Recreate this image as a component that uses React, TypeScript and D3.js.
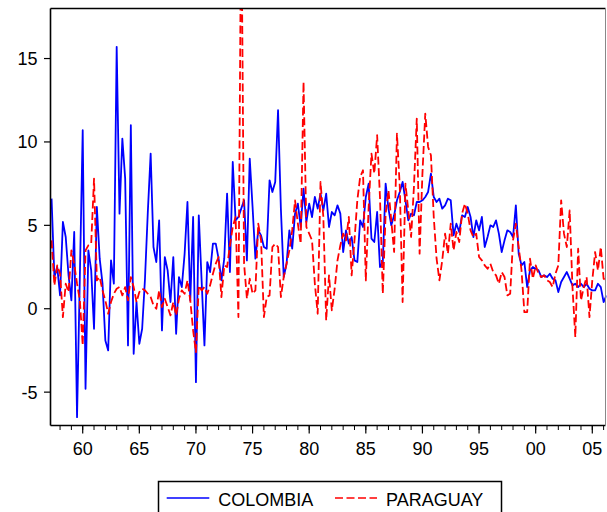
import React from "react";
import * as d3 from "d3";

const START_YEAR = 1957;
const START_QUARTER = 2;

const colombia = [
  6.6, 1.9, 2.5, 0.8, 5.2, 4.3, 2.0, 0.5, 4.6, -6.5,
  2.0, 10.7, -4.8, 3.5, 2.3, -1.2, 6.1, 3.0, 1.5, -1.9,
  -2.5, 2.9, 1.5, 15.7, 5.7, 10.2, 7.8, -2.2, 11.0, -2.7,
  0.4, -2.1, -1.2, 1.8, 5.8, 9.3, 3.7, 2.8, 5.3, -1.3,
  3.1, 2.3, 0.4, 3.1, -1.5, 1.9, 1.3, 3.3, 6.4, 0.5,
  5.5, -4.4, 5.6, 1.7, -2.2, 2.8, 2.2, 3.9, 3.9, 3.0,
  1.7, 3.0, 6.9, 2.2, 8.8, 5.3, 5.5, 6.0, 6.5, 2.9,
  9.0, 6.1, 3.0, 4.7, 4.4, 3.7, 3.6, 7.7, 7.0, 7.6,
  11.9, 6.0, 1.9, 2.7, 4.7, 3.6, 5.7, 6.3, 4.9, 7.2,
  5.2, 6.3, 5.5, 6.7, 6.0, 6.9, 5.9, 6.9, 4.9, 5.8,
  5.6, 6.2, 5.7, 3.4, 4.7, 3.9, 4.3, 2.9, 2.8, 5.3,
  4.9, 6.7, 7.5, 4.2, 4.0, 5.8, 2.5, 2.8, 7.5, 6.0,
  5.0, 5.6, 6.5, 7.0, 7.6, 6.5, 5.3, 5.7, 5.6, 6.4,
  6.4, 6.5, 6.7, 7.0, 8.1, 6.7, 6.4, 6.6, 6.0, 6.2,
  6.6, 6.5, 4.4, 5.1, 4.6, 5.6, 5.5, 6.1, 5.5, 4.3,
  5.3, 4.7, 5.5, 3.7, 4.3, 5.0, 4.9, 5.3, 4.5, 3.4,
  4.1, 4.7, 4.6, 4.3, 6.2, 3.3, 2.6, 2.8, 1.3, 2.3,
  2.5, 2.4, 2.3, 1.9, 2.0, 1.9, 2.1, 1.8, 1.7, 1.0,
  1.6, 1.9, 2.2, 1.8, 1.4, 1.5, 1.3, 1.5, 1.3, 1.5,
  1.2, 1.1, 1.1, 1.5, 1.3, 0.4, 0.8,
];

const paraguay = [
  4.1, 1.4, 2.6, 2.1, -0.5, 1.5, 1.0, 3.5, 2.7, 1.5,
  0.5, -2.2, 3.5, 3.8, 3.9, 7.8, 1.7, 1.9, 1.1, 0.5,
  -0.3, 0.4, 0.9, 1.2, 1.3, 0.8, 1.3, 0.5, 1.9, 1.3,
  0.4, 1.0, 1.2, 1.1, 0.9, 0.7, 0.2, 0.0, 1.1, 0.1,
  0.6, 0.1, -0.4, 0.4, -0.4, 0.6, 1.1, 0.9, 1.7, 0.5,
  -1.3, -2.6, 1.4, 1.1, 1.3, 0.9, 1.4, 2.1, 2.7, 3.1,
  0.7, 2.6, 2.5, 3.8, 4.9, 5.5, -0.5, 25.0, 2.7, 0.6,
  1.8, 0.9, 1.1, 5.1, 4.1, -0.5, 0.7, 0.8, 3.7, 3.9,
  3.7, 0.7, 1.9, 2.7, 3.5, 4.7, 6.5, 5.1, 3.9, 13.6,
  4.9, 4.5, 4.1, 1.5, -0.3, 7.6, 5.5, -0.7, 2.0, -0.1,
  1.2, 2.9, 3.8, 4.5, 4.1, 5.5, 2.0, 4.1, 6.5, 7.9,
  8.3, 1.7, 6.1, 9.3, 8.1, 10.4, 6.7, 0.9, 5.7, 7.1,
  5.3, 3.4, 10.5, 7.3, 0.4, 7.5, 5.9, 4.3, 7.3, 11.4,
  3.3, 8.1, 11.7, 9.7, 9.2, 5.5, 3.0, 1.7, 2.9, 4.5,
  3.3, 5.1, 3.5, 4.6, 4.0, 5.7, 6.3, 5.7, 4.7, 4.3,
  4.5, 3.1, 2.9, 2.6, 2.4, 2.7, 2.2, 2.0, 1.5, 2.2,
  1.9, 0.8, 0.9, 4.1, 5.1, 3.7, 2.3, -0.2, -0.2, 3.0,
  1.8, 2.6, 2.1, 1.9, 2.0, 1.7, 1.6, 1.3, 2.1, 2.6,
  6.5, 4.5, 3.7, 5.9, 1.3, -1.7, 3.6, 0.5, 1.3, 1.9,
  -0.5, 1.7, 3.4, 2.3, 3.7, 1.8, 1.7,
];

const xMajorYears = [1960, 1965, 1970, 1975, 1980, 1985, 1990, 1995, 2000, 2005];
const xTickLabels = ["60", "65", "70", "75", "80", "85", "90", "95", "00", "05"];
const xMinorYears = d3.range(1958, 2007);
const yTicks = [-5, 0, 5, 10, 15];
const seriesNames = ["COLOMBIA", "PARAGUAY"];

const W = 607;
const H = 512;
const L = 50.5;
const R = 605.5;
const T = 8.5;
const B = 425.5;
const FONT = "'Liberation Sans', Arial, Helvetica, sans-serif";

export default function App() {
  const x = d3
    .scaleLinear()
    .domain([1957.156, 2006.166])
    .range([L, R]);
  const y = d3.scaleLinear().domain([-7, 18]).range([B, T]);

  const toT = (i: number) => START_YEAR + (START_QUARTER - 1 + i) / 4;
  const line = d3
    .line<number>()
    .x((_, i) => x(toT(i)))
    .y((d) => y(d));

  return (
    <svg
      width={W}
      height={H}
      style={{ position: "absolute", left: 0, top: 0, background: "#fff" }}
      fontFamily={FONT}
    >
      <defs>
        <clipPath id="plotclip">
          <rect x={L} y={T} width={R - L + 1} height={B - T} />
        </clipPath>
      </defs>
      <rect x={0} y={0} width={W} height={H} fill="#fff" />

      <g clipPath="url(#plotclip)">
        <path
          d={line(colombia) || ""}
          fill="none"
          stroke="#0000ff"
          strokeWidth={1.8}
          strokeLinejoin="round"
        />
        <path
          d={line(paraguay) || ""}
          fill="none"
          stroke="#ff0000"
          strokeWidth={1.8}
          strokeDasharray="8,3.5"
          strokeLinejoin="round"
        />
      </g>

      {/* frame */}
      <line x1={L} x2={L} y1={T} y2={B} stroke="#000" strokeWidth={1.6} />
      <line x1={L} x2={R} y1={T} y2={T} stroke="#000" strokeWidth={1.6} />
      <line x1={L} x2={R} y1={B} y2={B} stroke="#000" strokeWidth={1.6} />
      <line x1={R} x2={R} y1={T} y2={B} stroke="#888" strokeWidth={1} />

      {/* y axis */}
      {yTicks.map((v) => (
        <g key={"y" + v}>
          <line x1={L - 6.5} x2={L} y1={y(v)} y2={y(v)} stroke="#000" strokeWidth={1.2} />
          <text
            x={37.5}
            y={y(v) + 6.4}
            textAnchor="end"
            fontSize={18}
            fill="#000"
          >
            {v}
          </text>
        </g>
      ))}

      {/* x axis */}
      {xMinorYears.map((yr) => (
        <line
          key={"m" + yr}
          x1={x(yr)}
          x2={x(yr)}
          y1={B}
          y2={B + 4.5}
          stroke="#000"
          strokeWidth={1}
        />
      ))}
      {xMajorYears.map((yr, i) => (
        <g key={"M" + yr}>
          <line x1={x(yr)} x2={x(yr)} y1={B} y2={B + 8} stroke="#000" strokeWidth={1.2} />
          <text x={x(yr)} y={454.5} textAnchor="middle" fontSize={18} fill="#000">
            {xTickLabels[i]}
          </text>
        </g>
      ))}

      {/* legend */}
      <rect
        x={158.5}
        y={481.5}
        width={343}
        height={40}
        fill="#fff"
        stroke="#000"
        strokeWidth={1.5}
      />
      <line x1={166.7} x2={209.3} y1={498} y2={498} stroke="#0000ff" strokeWidth={1.5} />
      <text x={218.3} y={506} fontSize={18} fill="#000">
        {seriesNames[0]}
      </text>
      <line
        x1={335}
        x2={377}
        y1={498}
        y2={498}
        stroke="#ff0000"
        strokeWidth={1.5}
        strokeDasharray="8,3.5"
      />
      <text x={386} y={506} fontSize={18} fill="#000">
        {seriesNames[1]}
      </text>
    </svg>
  );
}
